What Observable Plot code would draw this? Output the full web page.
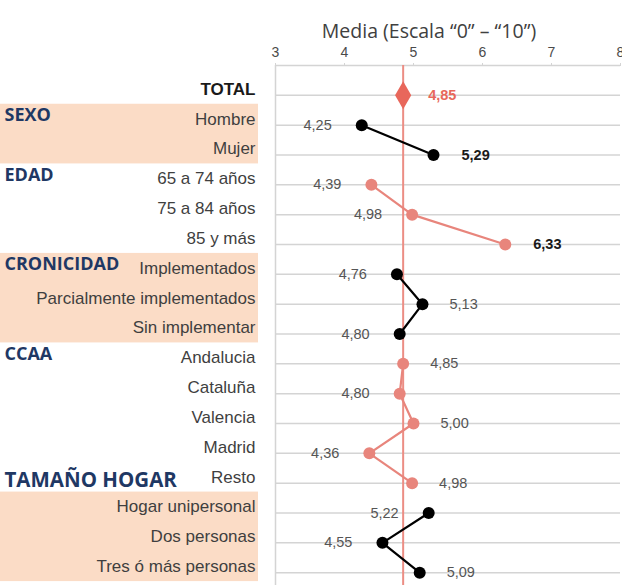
<!DOCTYPE html>
<html><head><meta charset="utf-8">
<script src="https://cdn.jsdelivr.net/npm/d3@7"></script>
<script src="https://cdn.jsdelivr.net/npm/@observablehq/plot@0.6"></script>
<style>
body{margin:0;background:#fff;}
#chart{position:relative;width:622px;height:585px;overflow:hidden;background:#fff;}
#chart svg{position:absolute;left:0;top:0;}
</style></head><body><div id="chart"></div>
<script>
// ---- data ----
const categories = ["TOTAL","Hombre","Mujer","65 a 74 años","75 a 84 años","85 y más",
  "Implementados","Parcialmente implementados","Sin implementar",
  "Andalucia","Cataluña","Valencia","Madrid","Resto",
  "Hogar unipersonal","Dos personas","Tres ó más personas"];
const values = [4.85, 4.25, 5.29, 4.39, 4.98, 6.33, 4.76, 5.13, 4.80, 4.85, 4.80, 5.00, 4.36, 4.98, 5.22, 4.55, 5.09];
const groupOf = ["TOTAL","SEXO","SEXO","EDAD","EDAD","EDAD","CRONICIDAD","CRONICIDAD","CRONICIDAD",
  "CCAA","CCAA","CCAA","CCAA","CCAA","TAMAÑO HOGAR","TAMAÑO HOGAR","TAMAÑO HOGAR"];
const groupNames = ["SEXO","EDAD","CRONICIDAD","CCAA","TAMAÑO HOGAR"];
const xTicks = [3,4,5,6,7,8];
const axisTitle = "Media (Escala “0” – “10”)";

// ---- styles ----
const groupShaded = {"SEXO":true,"EDAD":false,"CRONICIDAD":true,"CCAA":false,"TAMAÑO HOGAR":true};
const groupColor = {"SEXO":"#000000","EDAD":"#e8857c","CRONICIDAD":"#000000","CCAA":"#e8857c","TAMAÑO HOGAR":"#000000"};
const labelSide = [1,-1,1,-1,-1,1,-1,1,-1,1,-1,1,-1,1,-1,-1,1];
const boldLabels = new Set(["Mujer","85 y más"]);
const salmon = "#e8675b";

const fmt = d => d3.format(".2f")(d).replace(".", ",");

const rows = categories.map((c,i) => ({cat:c, value:values[i], group:groupOf[i], row:i+1, side:labelSide[i]}));
const total = rows.filter(d => d.group === "TOTAL");
const items = rows.filter(d => d.group !== "TOTAL");
const groups = groupNames.map(g => {
  const rs = items.filter(d => d.group === g).map(d => d.row);
  return {name:g, first:d3.min(rs), last:d3.max(rs), shaded:groupShaded[g]};
});

const yScale = {domain:[0, 17.43], range:[65, 585], axis:null};

const side = Plot.plot({
  width:258, height:585, marginLeft:0, marginRight:0, marginTop:65, marginBottom:0,
  style:{background:"transparent", fontFamily:"'Liberation Sans', Arial, sans-serif"},
  y: yScale,
  marks:[
    Plot.rect(groups.filter(g => g.shaded), {y1: g => g.first - 0.5, y2: g => g.last + 0.5, dy:-6, fill:"#fbdcc6"}),
    Plot.text(items, {y:"row", text:"cat", frameAnchor:"right", textAnchor:"end", dx:-3, dy:-6, fontSize:17, fill:"#3f3f3f"}),
    Plot.text(total, {y:"row", text:"cat", frameAnchor:"right", textAnchor:"end", dx:-3, dy:-6, fontSize:17, fontWeight:"bold", fill:"#1a1a1a"}),
    Plot.text(groups.filter(g => g.name !== "TAMAÑO HOGAR"), {y:"first", text:"name", frameAnchor:"left", textAnchor:"start", dx:4, dy:-10, fontSize:18, fontWeight:"bold", fill:"#1f3864", fontFamily:"'Open Sans', sans-serif"}),
    Plot.text(groups.filter(g => g.name === "TAMAÑO HOGAR"), {y:"first", text:"name", frameAnchor:"left", textAnchor:"start", dx:4, dy:-33, fontSize:20.5, fontWeight:"bold", fill:"#1f3864", fontFamily:"'Open Sans', sans-serif"})
  ]
});

const main = Plot.plot({
  width:622, height:585, marginLeft:275, marginRight:2, marginTop:65, marginBottom:0,
  style:{background:"transparent", fontFamily:"'Liberation Sans', Arial, sans-serif"},
  x:{domain:[3,8], range:[275,620]},
  y: yScale,
  color:{type:"identity"},
  marks:[
    Plot.ruleY([0, ...rows.map(d => d.row)], {stroke:"#d4d4d4", strokeWidth:1.5}),
    Plot.ruleX([3], {stroke:"#d4d4d4", strokeWidth:1.5}),
    Plot.axisX({anchor:"top", ticks:xTicks, tickSize:3, tickPadding:6, fontSize:14, label:null, tickFormat:d => d, color:"#4a4a4a", stroke:"#d4d4d4"}),
    Plot.text([axisTitle], {frameAnchor:"top", dx:-19, dy:-41, text:d => d, fontSize:19.5, fill:"#404040", fontFamily:"'Open Sans', sans-serif"}),
    Plot.ruleX(total, {x:"value", stroke:"#ec8d84", strokeWidth:2}),
    Plot.line(items, {x:"value", y:"row", z:"group", stroke:d => groupColor[d.group], strokeWidth:2.2}),
    Plot.dot(items, {x:"value", y:"row", r:6, fill:d => groupColor[d.group], stroke:"none"}),
    Plot.dot(total, {x:"value", y:"row", symbol:"diamond", r:8.5, fill:salmon, stroke:"none"}),
    Plot.text(items.filter(d => d.side < 0), {x:"value", y:"row", text:d => fmt(d.value), textAnchor:"end", dx:-30, fontSize:14.5, fill:"#555"}),
    Plot.text(items.filter(d => d.side > 0 && !boldLabels.has(d.cat)), {x:"value", y:"row", text:d => fmt(d.value), textAnchor:"start", dx:27, fontSize:14.5, fill:"#555"}),
    Plot.text(items.filter(d => d.side > 0 && boldLabels.has(d.cat)), {x:"value", y:"row", text:d => fmt(d.value), textAnchor:"start", dx:28, fontSize:14.5, fontWeight:"bold", fill:"#1a1a1a"}),
    Plot.text(total, {x:"value", y:"row", text:d => fmt(d.value), textAnchor:"start", dx:25, fontSize:14.5, fontWeight:"bold", fill:salmon})
  ]
});

const el = document.getElementById("chart");
el.appendChild(side);
el.appendChild(main);
</script>
</body></html>
